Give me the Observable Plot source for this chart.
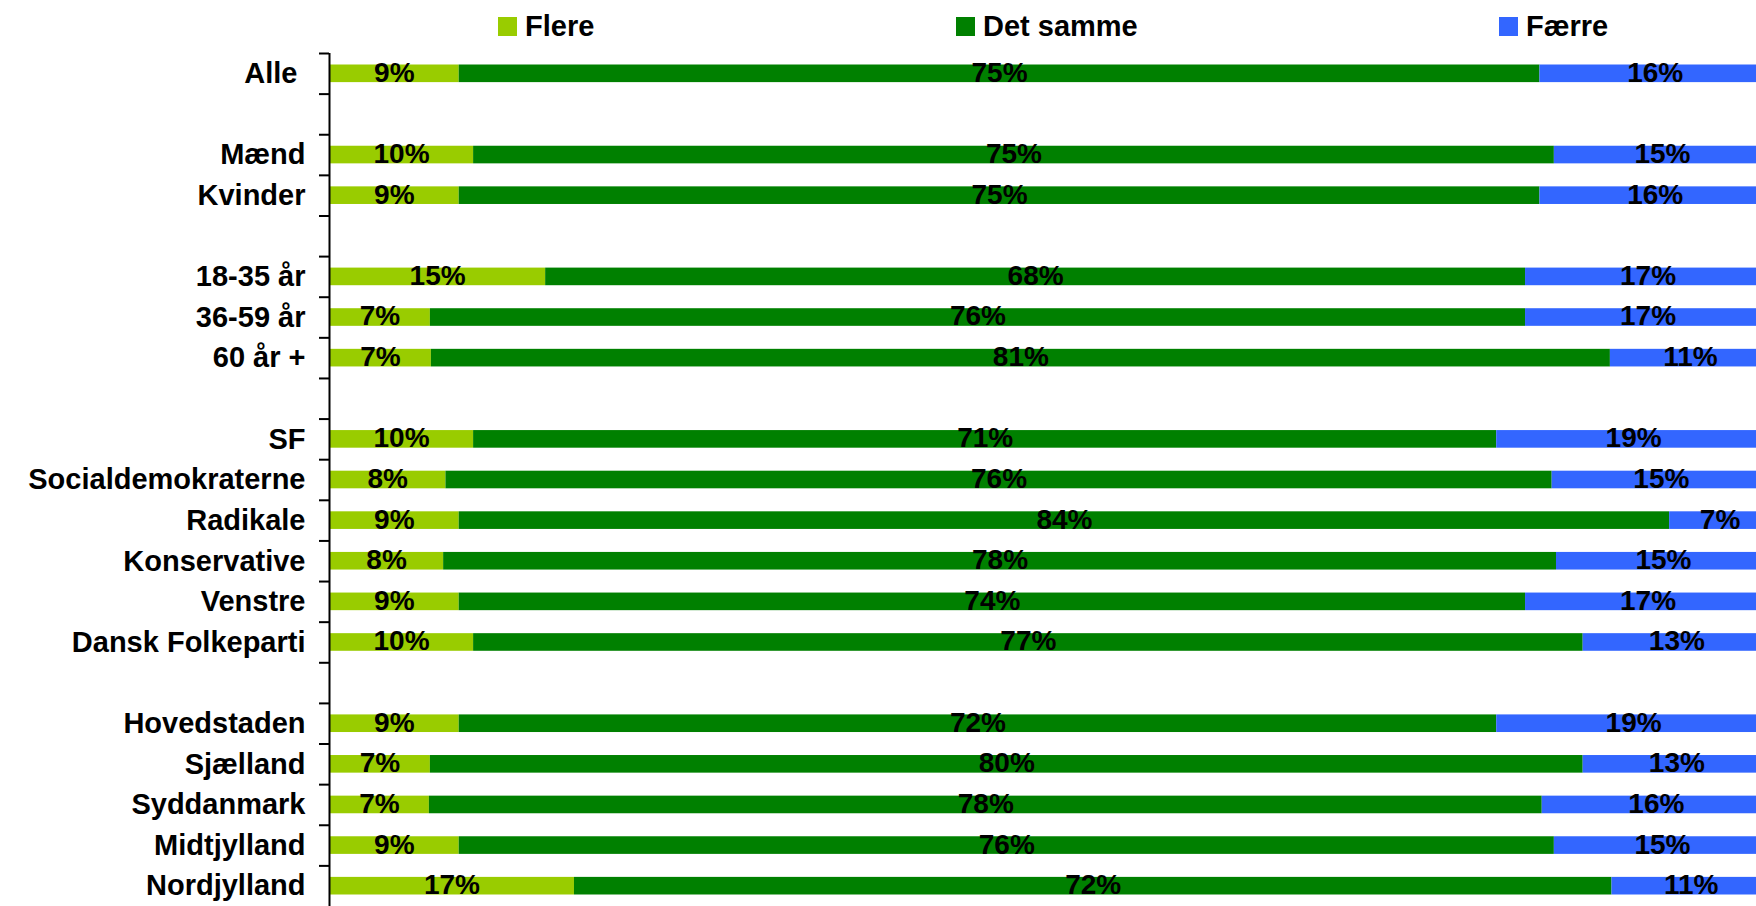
<!DOCTYPE html>
<html><head><meta charset="utf-8">
<script src="https://cdn.jsdelivr.net/npm/d3@7"></script>
<script src="https://cdn.jsdelivr.net/npm/@observablehq/plot@0.6"></script>
<style>
html,body{margin:0;padding:0;background:#fff;overflow:hidden;}
#chart{position:relative;width:1756px;height:906px;}
#chart svg{overflow:hidden;}
.legend-item{position:absolute;top:12px;height:29px;display:flex;align-items:center;font:bold 29px "Liberation Sans",Arial,sans-serif;color:#000;line-height:29px;white-space:nowrap;}
.legend-item .sw{width:19px;height:19px;margin-right:8px;}
</style></head><body><div id="chart"></div>
<script>
const categories = ["Alle ", " ", "Mænd", "Kvinder", "  ", "18-35 år", "36-59 år", "60 år +", "   ", "SF", "Socialdemokraterne", "Radikale", "Konservative", "Venstre", "Dansk Folkeparti", "    ", "Hovedstaden", "Sjælland", "Syddanmark", "Midtjylland", "Nordjylland"];
const series = ["Flere", "Det samme", "Færre"];
const colors = ["#99cc00", "#008000", "#3366ff"];
const flere    = [9, null, 10, 9, null, 15, 7, 7, null, 10, 8, 9, 8, 9, 10, null, 9, 7, 7, 9, 17];
const detSamme = [75, null, 75, 75, null, 68, 76, 81, null, 71, 76, 84, 78, 74, 77, null, 72, 80, 78, 76, 72];
const faerre   = [16, null, 15, 16, null, 17, 17, 11, null, 19, 15, 7, 15, 17, 13, null, 19, 13, 16, 15, 11];
const legendLeft = [498, 956, 1499];

const seriesValues = [flere, detSamme, faerre];
const rows = [];
categories.forEach((c, i) => {
  series.forEach((s, j) => {
    const v = seriesValues[j][i];
    if (v != null) rows.push({cat: c, series: s, value: v});
  });
});

const W = 1756, H = 906, mTop = 53, mLeft = 329;
const bw = (H - mTop) / categories.length;
const font = '"Liberation Sans", Arial, sans-serif';

const chart = Plot.plot({
  width: W, height: H,
  marginTop: mTop, marginBottom: 0, marginLeft: mLeft, marginRight: -14,
  style: {fontFamily: font, fontWeight: "bold", background: "white", color: "black", overflow: "hidden"},
  x: {domain: [0, 1], axis: null},
  y: {domain: categories, padding: 0, round: false, axis: null},
  color: {domain: series, range: colors},
  marks: [
    Plot.barX(rows, Plot.stackX({x: "value", y: "cat", fill: "series", order: series, offset: "normalize", insetTop: 11.5, insetBottom: 11.5})),
    Plot.text(rows, Plot.stackX({x: "value", y: "cat", z: "series", order: series, offset: "normalize", text: d => d.value + "%", fontSize: 28, fontWeight: "bold", fill: "black", dy: -1})),
    Plot.ruleX([0], {stroke: "black", strokeWidth: 2}),
    Plot.axisY({tickSize: 10, text: null, label: null, dy: -bw / 2, stroke: "black", strokeWidth: 2, strokeOpacity: 1}),
    Plot.axisY({tickSize: 0, tickPadding: 24, fontSize: 29, fontWeight: "bold", fill: "black", label: null})
  ]
});

const container = document.getElementById("chart");
container.appendChild(chart);
series.forEach((s, i) => {
  const item = document.createElement("div");
  item.className = "legend-item";
  item.style.left = legendLeft[i] + "px";
  const sw = document.createElement("span");
  sw.className = "sw";
  sw.style.background = colors[i];
  const t = document.createElement("span");
  t.textContent = s;
  item.appendChild(sw);
  item.appendChild(t);
  container.appendChild(item);
});
</script></body></html>
